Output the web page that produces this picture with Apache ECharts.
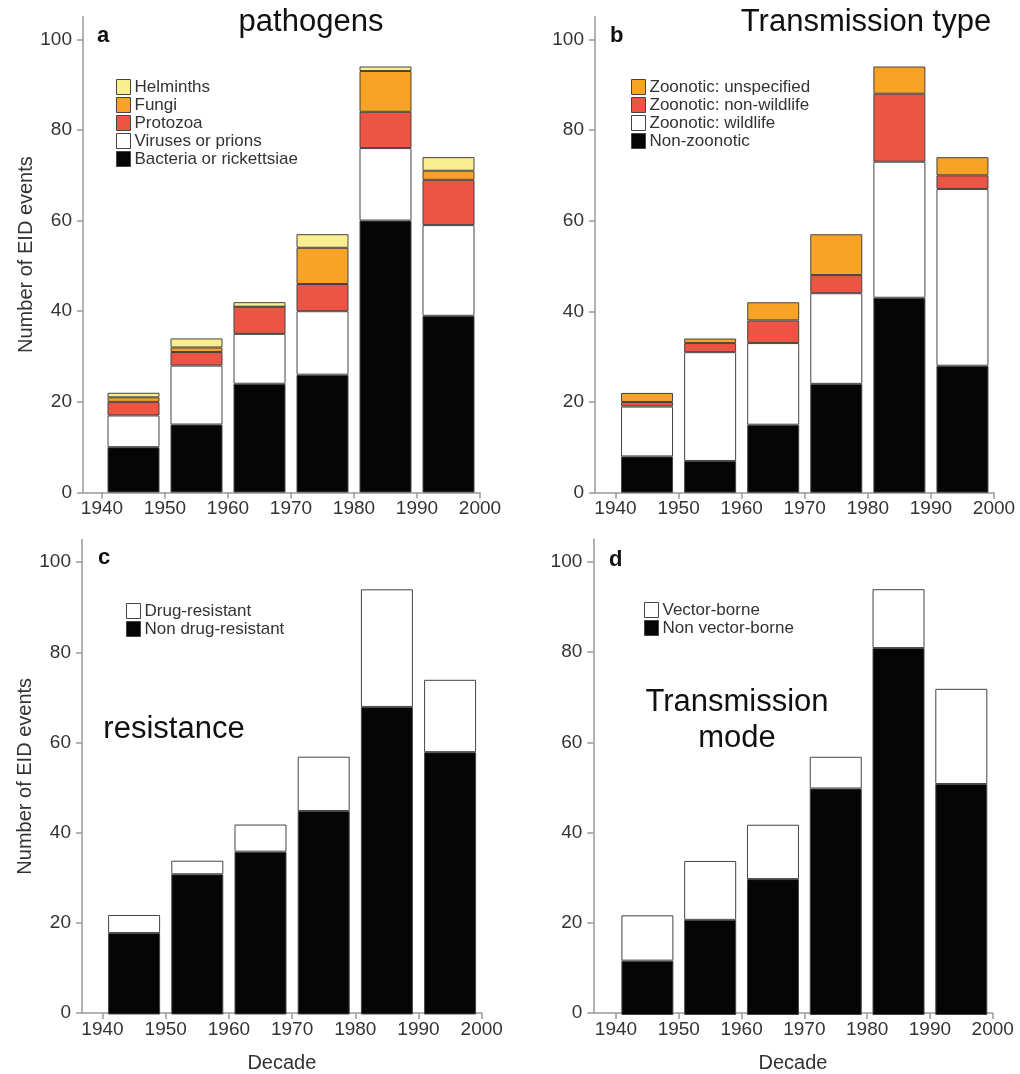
<!DOCTYPE html>
<html>
<head>
<meta charset="utf-8">
<script src="https://cdn.jsdelivr.net/npm/echarts@6/dist/echarts.min.js"></script>
<style>
  html, body { margin: 0; background: #fff; }
  #chart { width: 1020px; height: 1074px; }
</style>
</head>
<body>
<div id="chart"></div>
<script>
// decades (bars sit between the year ticks)
const decades = ['1940', '1950', '1960', '1970', '1980', '1990'];
const yearTicks = [1940, 1950, 1960, 1970, 1980, 1990, 2000];
const countTicks = [0, 20, 40, 60, 80, 100];

// a - pathogens
const bacteria = [10, 15, 24, 26, 60, 39];
const viruses = [7, 13, 11, 14, 16, 20];
const protozoa = [3, 3, 6, 6, 8, 10];
const fungi = [1, 1, 0, 8, 9, 2];
const helminths = [1, 2, 1, 3, 1, 3];

// b - transmission type
const nonZoonotic = [8, 7, 15, 24, 43, 28];
const zooWildlife = [11, 24, 18, 20, 30, 39];
const zooNonWildlife = [1, 2, 5, 4, 15, 3];
const zooUnspecified = [2, 1, 4, 9, 6, 4];

// c - resistance
const nonDrugResistant = [18, 31, 36, 45, 68, 58];
const drugResistant = [4, 3, 6, 12, 26, 16];

// d - transmission mode
const nonVectorBorne = [12, 21, 30, 50, 81, 51];
const vectorBorne = [10, 13, 12, 7, 13, 21];

const BLACK = '#050505', WHITE = '#ffffff', RED = '#ec5443', ORANGE = '#f7a325', YELLOW = '#fbee90';
const FONT = '"Liberation Sans", Arial, sans-serif';
const W = 1020, H = 1074, YMAX = 105;

// pixel layout of each panel: y-axis line, 1940 tick, 2000 tick, y=0 and y=100
const panels = [
  { axisX: 83, x1940: 102, x2000: 480, y0: 492.5, y100: 39.3, yName: true, xName: false },
  { axisX: 595, x1940: 615.5, x2000: 994, y0: 492.7, y100: 39.3, yName: false, xName: false },
  { axisX: 82, x1940: 102.5, x2000: 481.7, y0: 1014.5, y100: 562.2, yName: true, xName: true },
  { axisX: 593.3, x1940: 616, x2000: 992.7, y0: 1015, y100: 562, yName: false, xName: true }
];

const grid = [], xAxis = [], yAxis = [];
panels.forEach((p, i) => {
  const top = p.y0 - (p.y0 - p.y100) * YMAX / 100;
  const pxPerYear = (p.x2000 - p.x1940) / 60;
  const xMin = 1940 - (p.x1940 - p.axisX) / pxPerYear;
  // visible axes
  grid.push({ left: p.axisX, right: W - p.x2000, top: top, bottom: H - p.y0 });
  // bars
  grid.push({ left: p.x1940, right: W - p.x2000, top: top, bottom: H - p.y0 });
  xAxis.push({
    type: 'value', gridIndex: 2 * i, min: xMin, max: 2000,
    axisLine: { lineStyle: { color: '#999', width: 1.5 } },
    axisTick: { customValues: yearTicks, length: 6, lineStyle: { color: '#999', width: 1.5 } },
    axisLabel: { customValues: yearTicks, formatter: v => String(v), fontSize: 19, color: '#333', margin: 7 },
    splitLine: { show: false },
    name: p.xName ? 'Decade' : '', nameLocation: 'middle', nameGap: 40,
    nameTextStyle: { fontSize: 20, color: '#333' }
  });
  xAxis.push({ type: 'category', gridIndex: 2 * i + 1, data: decades, show: false });
  yAxis.push({
    type: 'value', gridIndex: 2 * i, min: 0, max: YMAX,
    axisLine: { show: true, lineStyle: { color: '#999', width: 1.5 } },
    axisTick: { show: true, customValues: countTicks, length: 6, lineStyle: { color: '#999', width: 1.5 } },
    axisLabel: { customValues: countTicks, fontSize: 19, color: '#333', margin: 11 },
    splitLine: { show: false },
    name: p.yName ? 'Number of EID events' : '', nameLocation: 'middle', nameGap: 47,
    nameTextStyle: { fontSize: 20, color: '#333' }
  });
  yAxis.push({ type: 'value', gridIndex: 2 * i + 1, min: 0, max: YMAX, show: false });
});

function bar(name, data, color, panel) {
  return {
    type: 'bar', name: name, data: data, stack: 'p' + panel,
    xAxisIndex: 2 * panel + 1, yAxisIndex: 2 * panel + 1,
    barWidth: 52,
    itemStyle: { color: color, borderColor: '#444', borderWidth: 1 },
    emphasis: { disabled: true }
  };
}

const series = [
  bar('Bacteria or rickettsiae', bacteria, BLACK, 0),
  bar('Viruses or prions', viruses, WHITE, 0),
  bar('Protozoa', protozoa, RED, 0),
  bar('Fungi', fungi, ORANGE, 0),
  bar('Helminths', helminths, YELLOW, 0),
  bar('Non-zoonotic', nonZoonotic, BLACK, 1),
  bar('Zoonotic: wildlife', zooWildlife, WHITE, 1),
  bar('Zoonotic: non-wildlife', zooNonWildlife, RED, 1),
  bar('Zoonotic: unspecified', zooUnspecified, ORANGE, 1),
  bar('Non drug-resistant', nonDrugResistant, BLACK, 2),
  bar('Drug-resistant', drugResistant, WHITE, 2),
  bar('Non vector-borne', nonVectorBorne, BLACK, 3),
  bar('Vector-borne', vectorBorne, WHITE, 3)
];

function legend(names, left, top) {
  return {
    data: names, left: left, top: top, orient: 'vertical',
    icon: 'rect', itemWidth: 14, itemHeight: 15, itemGap: 0, padding: 0,
    itemStyle: { borderColor: '#444', borderWidth: 1 },
    textStyle: { fontSize: 17, color: '#333', lineHeight: 18, padding: [0, 0, 0, -1] },
    selectedMode: false
  };
}

function label(text, x, y, size, bold, align) {
  return {
    type: 'text', x: x, y: y, silent: true,
    style: {
      text: text, fill: '#111', font: (bold ? 'bold ' : '') + size + 'px ' + FONT,
      align: align, textAlign: align, verticalAlign: 'middle', textVerticalAlign: 'middle'
    }
  };
}

const chart = echarts.init(document.getElementById('chart'));
chart.setOption({
  animation: false,
  backgroundColor: '#fff',
  textStyle: { fontFamily: FONT },
  grid: grid,
  xAxis: xAxis,
  yAxis: yAxis,
  legend: [
    legend(['Helminths', 'Fungi', 'Protozoa', 'Viruses or prions', 'Bacteria or rickettsiae'], 116, 78),
    legend(['Zoonotic: unspecified', 'Zoonotic: non-wildlife', 'Zoonotic: wildlife', 'Non-zoonotic'], 631, 78),
    legend(['Drug-resistant', 'Non drug-resistant'], 126, 602),
    legend(['Vector-borne', 'Non vector-borne'], 644, 601)
  ],
  graphic: [
    label('a', 97, 35.5, 22, true, 'left'),
    label('b', 610, 35.5, 22, true, 'left'),
    label('c', 98, 558, 22, true, 'left'),
    label('d', 609, 559.5, 22, true, 'left'),
    label('pathogens', 311, 22, 31, false, 'center'),
    label('Transmission type', 866, 22, 31, false, 'center'),
    label('resistance', 174, 729, 31, false, 'center'),
    label('Transmission', 737, 702, 31, false, 'center'),
    label('mode', 737, 738, 31, false, 'center')
  ],
  series: series
});
</script>
</body>
</html>
